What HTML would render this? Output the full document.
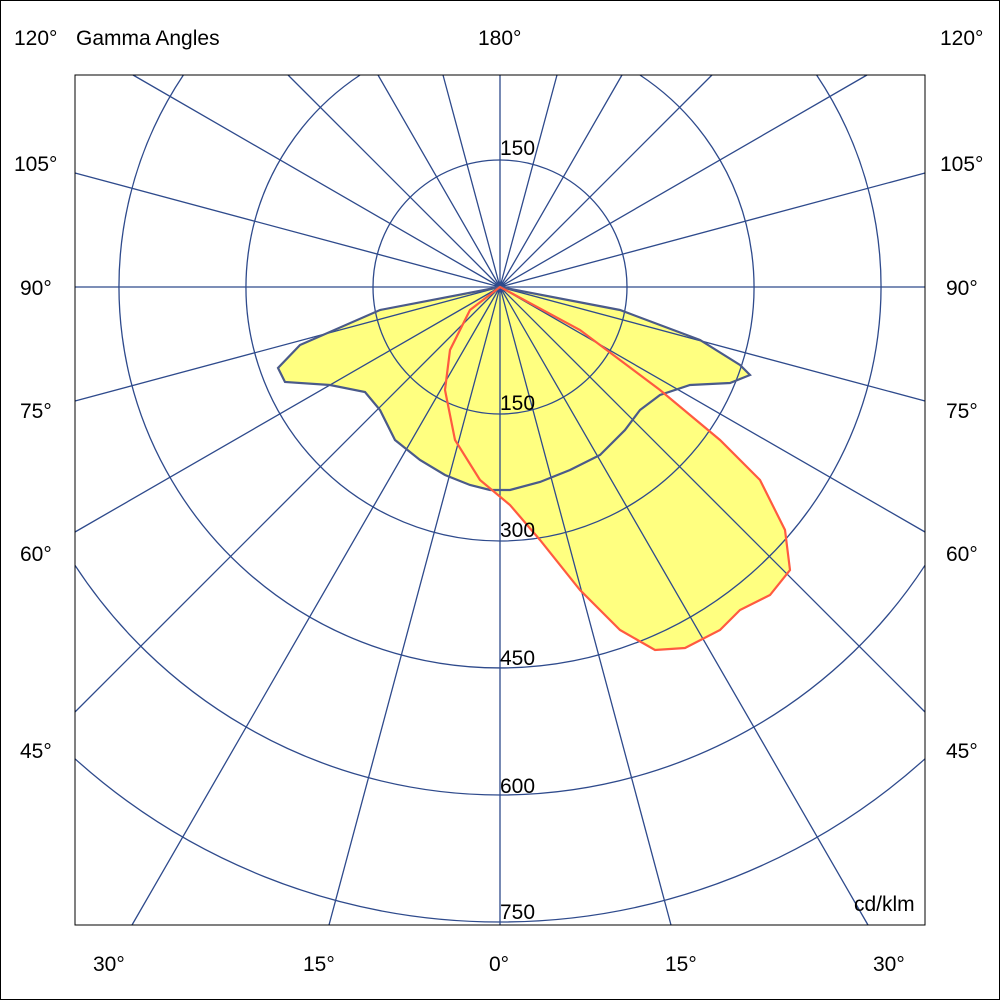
<!DOCTYPE html>
<html><head><meta charset="utf-8"><style>
html,body{margin:0;padding:0;background:#fff;width:1000px;height:1000px;overflow:hidden}
svg{display:block}
text{font-family:"Liberation Sans",sans-serif;font-size:21px;fill:#000}
</style></head><body>
<svg width="1000" height="1000" viewBox="0 0 1000 1000">
<rect x="0.5" y="0.5" width="999" height="999" fill="#fff" stroke="#000"/>
<path fill="#ffff80" stroke="none" d="M500,287 L380,310 L300,345 L278,368 L285,382 L330,385 L365,392 L380,410 L395,440 L420,460 L445,475 L470,485 L490,490 L510,490 L540,482 L570,470 L600,455 L625,430 L640,410 L660,395 L690,385 L730,383 L750,375 L740,365 L700,340 L620,310 Z"/>
<path fill="#ffff80" stroke="none" d="M500,287 L470,310 L450,350 L445,390 L455,440 L480,480 L510,505 L540,540 L580,590 L620,630 L655,650 L685,648 L720,630 L740,610 L770,595 L790,570 L785,530 L760,480 L720,440 L660,390 L580,330 Z"/>
<g fill="none" stroke="#2e4a8c" stroke-width="1.3">
<circle cx="500" cy="287" r="127"/>
<path d="M639.9,75 A254,254 0 1 1 360.1,75"/>
<path d="M816.6,75 A381,381 0 1 1 183.4,75"/>
<path d="M925,565.3 A508,508 0 0 1 75,565.3"/>
<path d="M925,758.8 A635,635 0 0 1 75,758.8"/>
<path d="M500,287 L500,925 M500,287 L671,925 M500,287 L868,925 M500,287 L925,712 M500,287 L925,532 M500,287 L925,401 M500,287 L925,287 M500,287 L925,173 M500,287 L867,75 M500,287 L712,75 M500,287 L622,75 M500,287 L557,75 M500,287 L500,75
M500,287 L329,925 M500,287 L132,925 M500,287 L75,712 M500,287 L75,532 M500,287 L75,401 M500,287 L75,287 M500,287 L75,173 M500,287 L133,75 M500,287 L288,75 M500,287 L378,75 M500,287 L443,75"/>
</g>
<path fill="none" stroke="#4a5a8a" stroke-width="2.2" d="M500,287 L380,310 L300,345 L278,368 L285,382 L330,385 L365,392 L380,410 L395,440 L420,460 L445,475 L470,485 L490,490 L510,490 L540,482 L570,470 L600,455 L625,430 L640,410 L660,395 L690,385 L730,383 L750,375 L740,365 L700,340 L620,310 Z"/>
<path fill="none" stroke="#ff5a40" stroke-width="2.2" d="M500,287 L470,310 L450,350 L445,390 L455,440 L480,480 L510,505 L540,540 L580,590 L620,630 L655,650 L685,648 L720,630 L740,610 L770,595 L790,570 L785,530 L760,480 L720,440 L660,390 L580,330 Z"/>
<rect x="75" y="75" width="850" height="850" fill="none" stroke="#000" stroke-width="1"/>
<text x="500" y="155">150</text>
<text x="500" y="410">150</text>
<text x="500" y="537">300</text>
<text x="500" y="665">450</text>
<text x="500" y="793">600</text>
<text x="500" y="919">750</text>
<text x="854" y="911">cd/klm</text>
<text x="14" y="45">120°</text>
<text x="76" y="45">Gamma Angles</text>
<text x="478" y="45">180°</text>
<text x="940" y="45">120°</text>
<text x="14" y="171">105°</text><text x="940" y="171">105°</text>
<text x="20" y="295">90°</text><text x="946" y="295">90°</text>
<text x="20" y="418">75°</text><text x="946" y="418">75°</text>
<text x="20" y="561">60°</text><text x="946" y="561">60°</text>
<text x="20" y="758">45°</text><text x="946" y="758">45°</text>
<text x="93" y="971">30°</text>
<text x="303" y="971">15°</text>
<text x="489" y="971">0°</text>
<text x="665" y="971">15°</text>
<text x="873" y="971">30°</text>
</svg>
</body></html>
